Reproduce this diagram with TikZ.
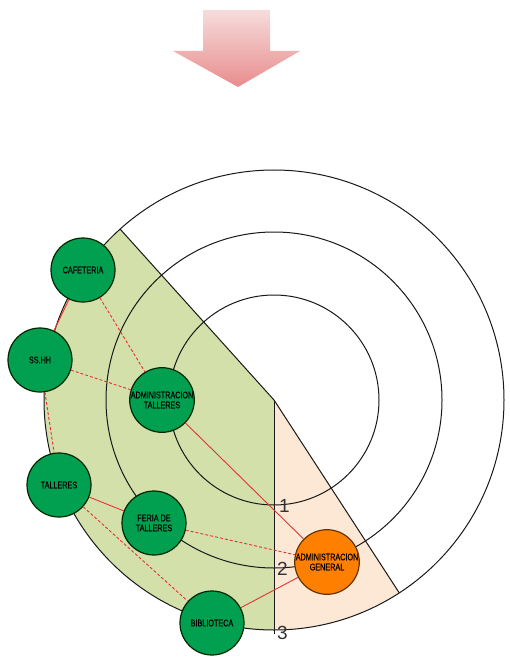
\documentclass[tikz,border=0pt]{standalone}
\usepackage{fontspec}
\setmainfont{Liberation Sans}
\newfontfamily\narrowfont[FakeStretch=0.76, FakeBold=0.6]{Liberation Sans}
\usetikzlibrary{positioning}
\definecolor{zonegreen}{RGB}{211, 224, 170}
\definecolor{zonepeach}{RGB}{253, 232, 213}
\definecolor{nodegreen}{RGB}{0, 160, 80}
\definecolor{nodeorange}{RGB}{255, 128, 0}
\definecolor{red1}{RGB}{230, 50, 50}
\definecolor{pink1}{RGB}{247, 220, 220}
\definecolor{pink2}{RGB}{232, 140, 140}

\begin{document}
\begin{tikzpicture}[
    x=1pt, y=1pt,
    espacio/.style={
      circle, draw=black!85!green, line width=1.2pt, fill=nodegreen,
      minimum size=64pt, inner sep=0pt, align=center,
      font=\narrowfont\fontsize{9.5}{10}\selectfont
    },
    espacioorg/.style={espacio, fill=nodeorange, draw=black!60!orange},
    ring/.style={draw=black!90, line width=1pt},
    link/.style={draw=red1, line width=0.9pt},
    linkdash/.style={link, dash pattern=on 3pt off 2pt},
    num/.style={font=\fontsize{19}{19}\selectfont, text=black!80, anchor=west, inner sep=1pt},
  ]
  \useasboundingbox (0,0) rectangle (510,-663);

  % Arrow
  \shade[top color=pink1, bottom color=pink2]
    (203,-10) -- (270,-10) -- (270,-51) -- (300,-51) -- (238,-87)
    -- (173,-51) -- (203,-51) -- cycle;

  % Zones
  \coordinate (c) at (274,-400);
  \fill[zonegreen] (c) -- ++(132:230) arc[start angle=132, end angle=270, radius=230] -- cycle;
  \fill[zonepeach] (c) -- ++(270:230) arc[start angle=270, end angle=303, radius=230] -- cycle;

  % Rings
  \foreach \r in {105,168,230}
    \draw[ring] (c) circle[radius=\r];
  \draw[ring] (c) -- ++(132:230);
  \draw[ring] (c) -- ++(303:230);
  \draw[ring] (c) -- ++(270:234);

  % Ring numbers
  \node[num] (n1) at (278,-506) {1};
  \node[num] (n2) at (276,-569) {2};
  \node[num] (n3) at (276,-633) {3};

  % Spaces
  \node[espacio] (cafe) at (83,-270) {CAFETERIA};
  \node[espacio] (sshh) at (40,-360) {SS.HH};
  \node[espacio] (admtall) at (162,-400) {ADMINISTRACION\\TALLERES};
  \node[espacio] (talleres) at (59,-485) {TALLERES};
  \node[espacio] (feria) at (154,-523) {FERIA DE\\TALLERES};
  \node[espacio] (biblio) at (212,-623) {BIBLIOTECA};
  \node[espacioorg] (admgen) at (327,-562) {ADMINISTRACION\\GENERAL};

  % Links
  \draw[link] (cafe) -- (sshh);
  \draw[linkdash] (cafe) -- (admtall);
  \draw[linkdash] (sshh) -- (admtall);
  \draw[linkdash] (sshh) -- (talleres);
  \draw[link] (admtall) -- (admgen);
  \draw[link] (talleres) -- (feria);
  \draw[linkdash] (talleres) -- (biblio);
  \draw[linkdash] (feria) -- (admgen);
  \draw[link] (biblio) -- (admgen);

\end{tikzpicture}
\end{document}
